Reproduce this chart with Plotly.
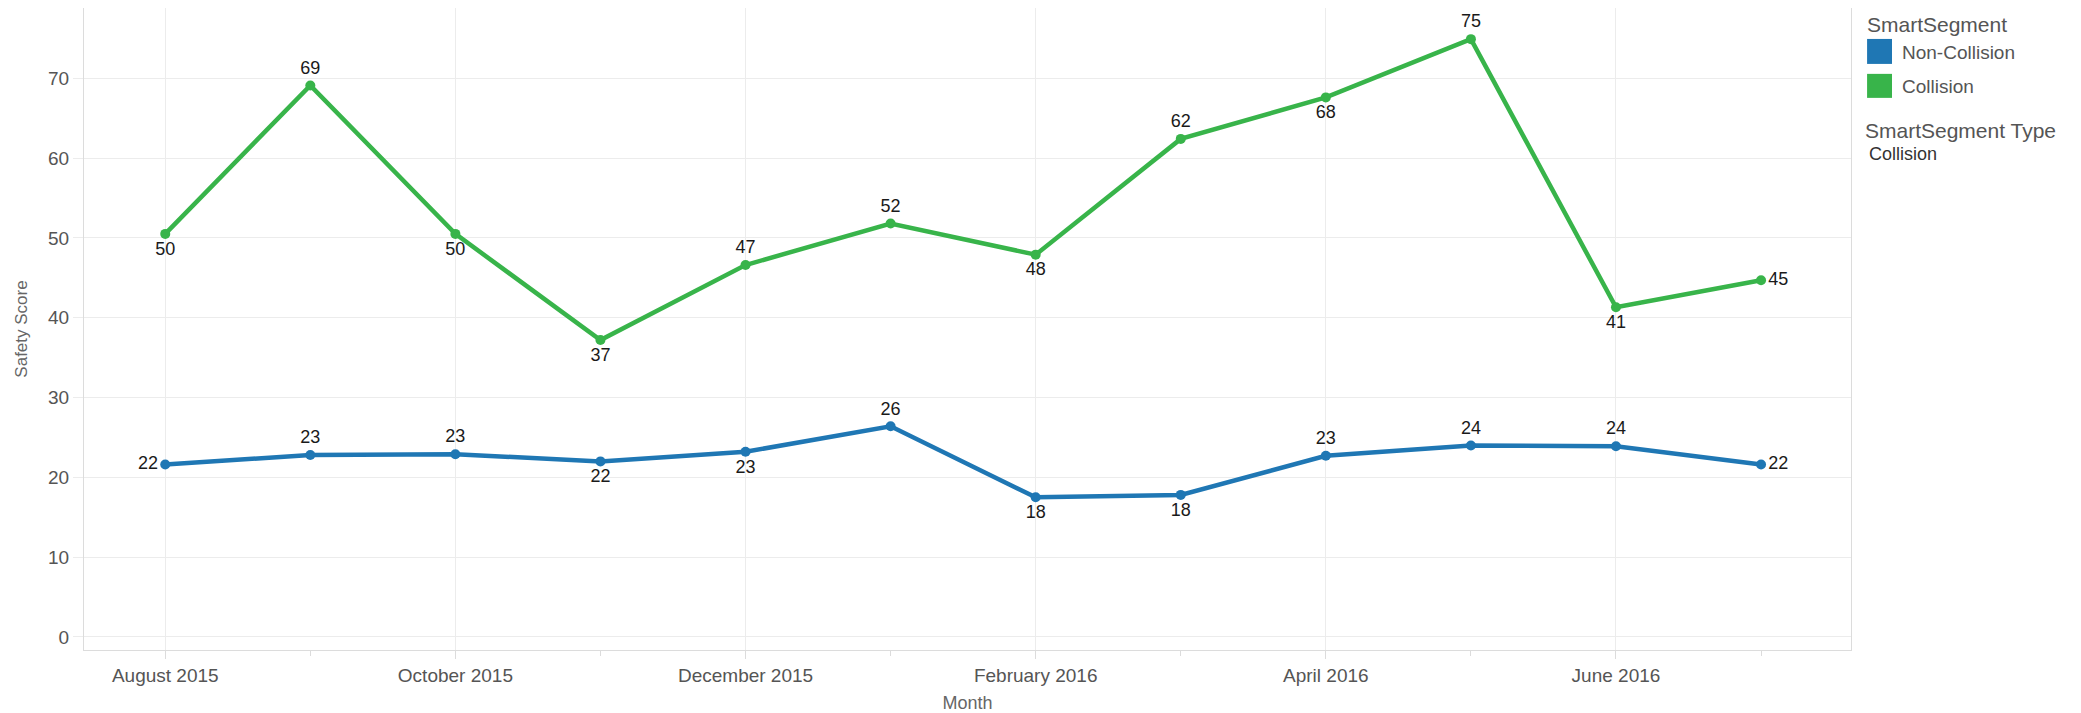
import plotly.graph_objects as go

months = ["August 2015", "September 2015", "October 2015", "November 2015",
          "December 2015", "January 2016", "February 2016", "March 2016",
          "April 2016", "May 2016", "June 2016", "July 2016"]
non_collision = [21.6, 22.8, 22.9, 22.0, 23.2, 26.4, 17.5, 17.8, 22.7, 24.0, 23.9, 21.6]
collision = [50.5, 69.1, 50.5, 37.2, 46.6, 51.8, 47.9, 62.4, 67.6, 74.9, 41.3, 44.7]
non_collision_pos = ["middle left", "top center", "top center", "bottom center",
                     "bottom center", "top center", "bottom center", "bottom center",
                     "top center", "top center", "top center", "middle right"]
collision_pos = ["bottom center", "top center", "bottom center", "bottom center",
                 "top center", "top center", "bottom center", "top center",
                 "bottom center", "top center", "bottom center", "middle right"]
y_ticks = [0, 10, 20, 30, 40, 50, 60, 70]

BLUE = "#1f77b4"
GREEN = "#38b44a"
FONT = "Liberation Sans, Arial, sans-serif"

x_idx = list(range(len(months)))
major = [i for i in x_idx if i % 2 == 0]
minor = [i for i in x_idx if i % 2 == 1]

fig = go.Figure()
for name, vals, pos, col in [("Non-Collision", non_collision, non_collision_pos, BLUE),
                             ("Collision", collision, collision_pos, GREEN)]:
    fig.add_trace(go.Scatter(
        x=x_idx, y=vals, mode="lines+markers+text", name=name,
        text=[f"{v:.0f}" for v in vals], textposition=pos,
        textfont=dict(family=FONT, size=18, color="#1a1a1a"),
        line=dict(color=col, width=4.5), marker=dict(color=col, size=10),
        showlegend=False, cliponaxis=False,
    ))

fig.update_layout(
    width=2073, height=705,
    margin=dict(l=76, r=230, t=0, b=63),
    paper_bgcolor="white", plot_bgcolor="white",
    font=dict(family=FONT, color="#555555", size=19),
    xaxis=dict(
        range=[-0.56, 11.62], tickmode="array", tickvals=major,
        ticktext=[months[i] for i in major],
        ticks="outside", ticklen=8, tickcolor="#dcdcdc",
        showgrid=True, gridcolor="#ececec", gridwidth=1,
        showline=True, linecolor="#dcdcdc", mirror=True, zeroline=False,
        tickfont=dict(size=19, color="#555555"),
        title=dict(text="Month", font=dict(size=18, color="#666666"), standoff=12),
        minor=dict(tickmode="array", tickvals=minor, ticks="outside", ticklen=5,
                   tickcolor="#dcdcdc", showgrid=False),
    ),
    yaxis=dict(
        range=[-1.63, 78.8], tickmode="array", tickvals=y_ticks,
        ticks="outside", ticklen=10, tickcolor="#ececec",
        showgrid=True, gridcolor="#ececec", gridwidth=1,
        showline=True, linecolor="#dcdcdc", mirror=True, zeroline=False,
        tickfont=dict(size=19, color="#555555"),
        title=dict(text="Safety Score", font=dict(size=17, color="#666666"), standoff=16),
    ),
)

# Legend drawn manually (Tableau-style square swatches)
legend_items = [("Non-Collision", BLUE, 0.9518, 0.9129, 0.930),
                ("Collision", GREEN, 0.8974, 0.8600, 0.877)]
for label, col, y1, y0, yt in legend_items:
    fig.add_shape(type="rect", xref="paper", yref="paper",
                  x0=1.0091, x1=1.0232, y0=y0, y1=y1,
                  fillcolor=col, line=dict(width=0))
    fig.add_annotation(xref="paper", yref="paper", x=1.0277, y=yt, text=label,
                       showarrow=False, xanchor="left", yanchor="middle",
                       font=dict(family=FONT, size=19, color="#555555"))
fig.add_annotation(xref="paper", yref="paper", x=1.0079, y=0.975, text="SmartSegment",
                   showarrow=False, xanchor="left", yanchor="middle",
                   font=dict(family=FONT, size=21, color="#555555"))
fig.add_annotation(xref="paper", yref="paper", x=1.0068, y=0.8087, text="SmartSegment Type",
                   showarrow=False, xanchor="left", yanchor="middle",
                   font=dict(family=FONT, size=21, color="#555555"))
fig.add_annotation(xref="paper", yref="paper", x=1.0091, y=0.773, text="Collision",
                   showarrow=False, xanchor="left", yanchor="middle",
                   font=dict(family=FONT, size=18, color="#333333"))

fig.write_html("out.html")
